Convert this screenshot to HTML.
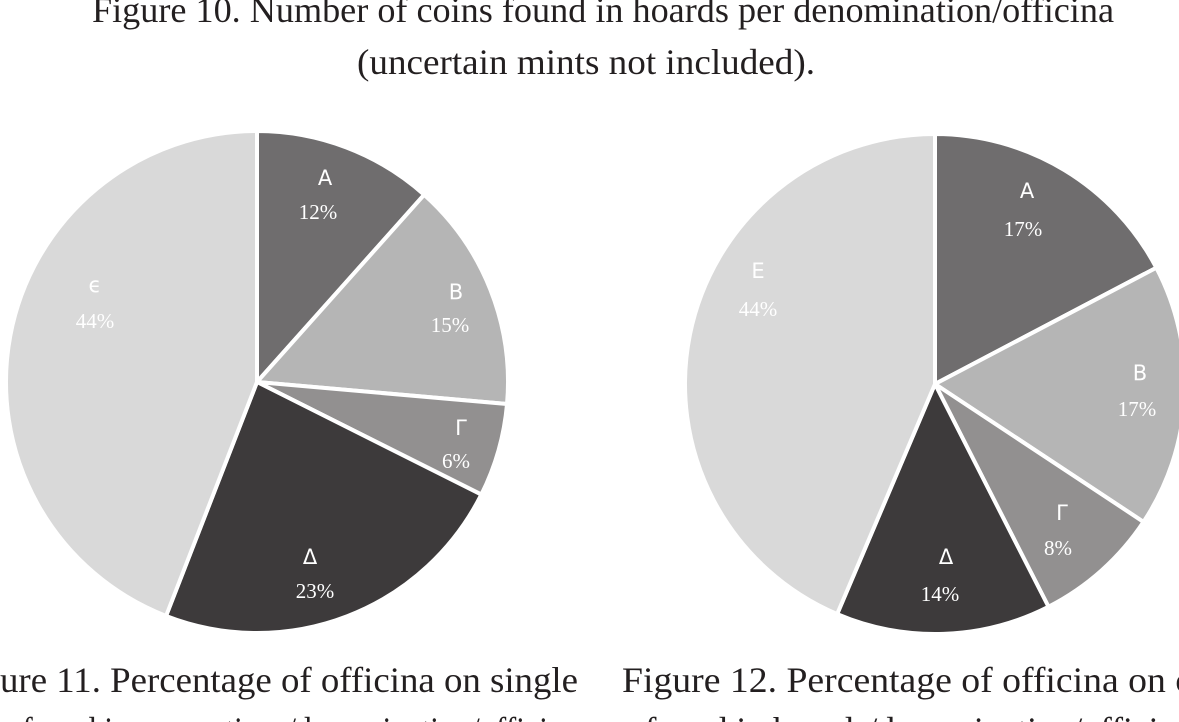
<!DOCTYPE html>
<html><head><meta charset="utf-8"><style>
html,body{margin:0;padding:0;background:#fff;width:1179px;height:722px;overflow:hidden}
svg{display:block}
.t{font-family:"Liberation Serif",serif;font-size:36px;fill:#231f20}
.l{font-family:"DejaVu Sans","Liberation Sans",sans-serif;font-size:21px;fill:#fff;text-anchor:middle}
.p{font-family:"Liberation Serif",serif;font-size:21px;fill:#fff;text-anchor:middle}
</style></head><body>
<svg id="s" width="1179" height="722" viewBox="0 0 1179 722">
<text class="t" x="92" y="22" textLength="1022" lengthAdjust="spacingAndGlyphs">Figure 10. Number of coins found in hoards per denomination/officina</text>
<text class="t" x="357" y="74" textLength="458" lengthAdjust="spacingAndGlyphs">(uncertain mints not included).</text>
<g id="p1"></g><g id="p2"></g>
<text class="l" x="325" y="185">Α</text><text class="p" x="318" y="219">12%</text>
<text class="l" x="456" y="299">Β</text><text class="p" x="450" y="332">15%</text>
<text class="l" x="461" y="435">Γ</text><text class="p" x="456" y="468">6%</text>
<text class="l" x="310" y="564">Δ</text><text class="p" x="315" y="598">23%</text>
<text class="l" x="95" y="292">ϵ</text><text class="p" x="95" y="328">44%</text>
<text class="l" x="1027" y="198">Α</text><text class="p" x="1023" y="236">17%</text>
<text class="l" x="1140" y="380">Β</text><text class="p" x="1137" y="416">17%</text>
<text class="l" x="1062" y="520">Γ</text><text class="p" x="1058" y="555">8%</text>
<text class="l" x="946" y="564">Δ</text><text class="p" x="940" y="601">14%</text>
<text class="l" x="758" y="278">Ε</text><text class="p" x="758" y="316">44%</text>
<text class="t" x="0" y="692" textLength="578" lengthAdjust="spacingAndGlyphs">ure 11. Percentage of officina on single</text>
<text class="t" x="622" y="692" textLength="570" lengthAdjust="spacingAndGlyphs">Figure 12. Percentage of officina on c</text>
<text class="t" x="0" y="742" textLength="578" lengthAdjust="spacingAndGlyphs">e found in excavations/denomination/officina</text>
<text class="t" x="622" y="742" textLength="570" lengthAdjust="spacingAndGlyphs">s found in hoards/denomination/officina</text>
</svg>
<script>
var cols=["#6f6d6e","#b5b5b5","#929090","#3d3a3b","#d9d9d9"];
function pie(id,cx,cy,r,vals){
 var g=document.getElementById(id),a=0,h="",tot=0;
 for(var k=0;k<vals.length;k++)tot+=vals[k];
 for(var i=0;i<vals.length;i++){
  var a0=a*2*Math.PI/tot,a1=(a+vals[i])*2*Math.PI/tot;a+=vals[i];
  var x0=cx+r*Math.sin(a0),y0=cy-r*Math.cos(a0),x1=cx+r*Math.sin(a1),y1=cy-r*Math.cos(a1);
  h+='<path d="M'+cx+' '+cy+'L'+x0+' '+y0+'A'+r+' '+r+' 0 '+((a1-a0)>Math.PI?1:0)+' 1 '+x1+' '+y1+'Z" fill="'+cols[i]+'" stroke="#fff" stroke-width="4" stroke-linejoin="round"/>';
 }
 g.innerHTML=h;
}
pie("p1",257,382,251,[11.6,14.8,6.0,23.5,44.1]);
pie("p2",935,384,250,[17.3,17.0,8.2,13.9,43.6]);
</script>
</body></html>
